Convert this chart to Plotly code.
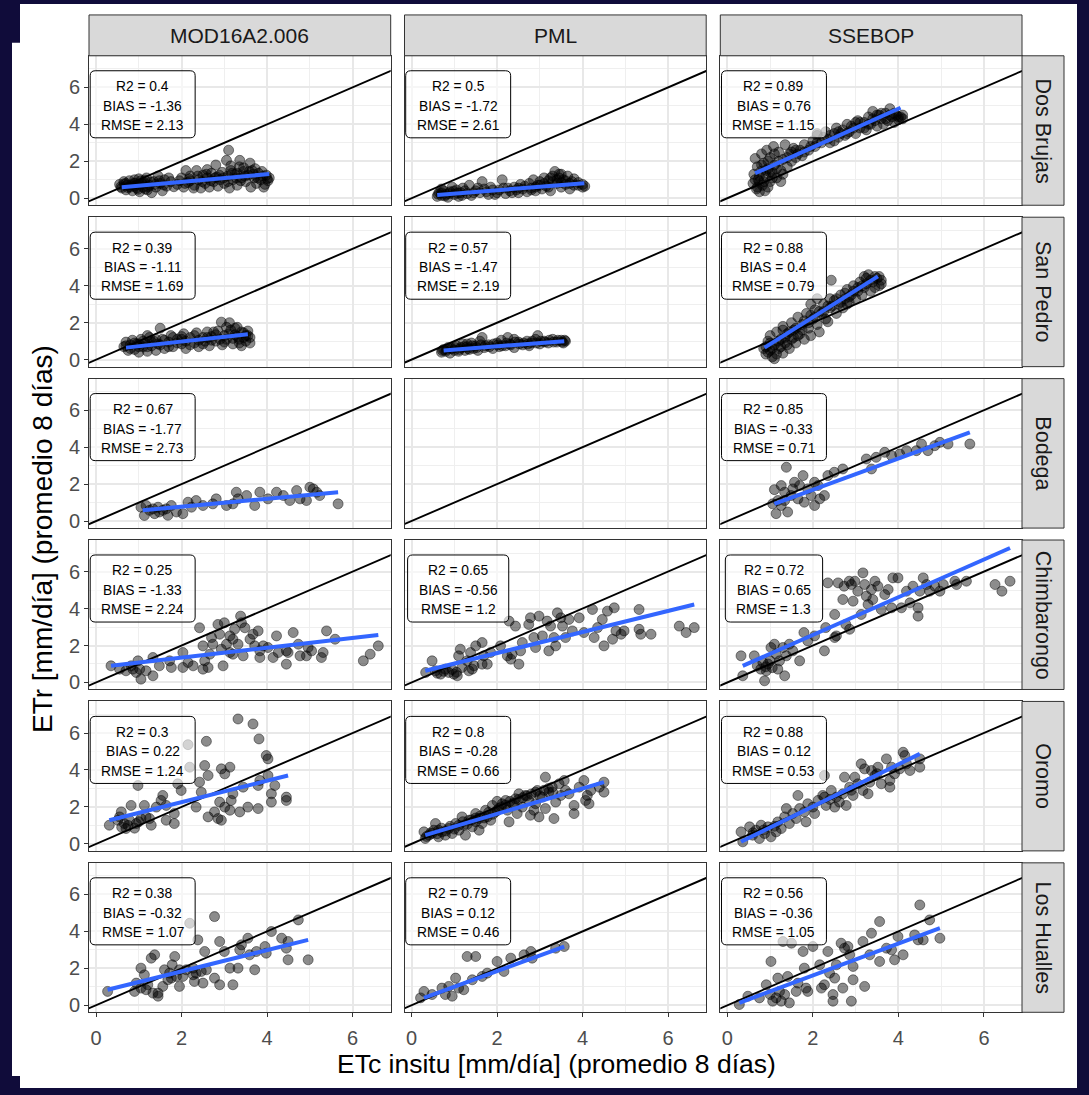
import plotly.graph_objects as go

W, H = 1089, 1095

models = ["MOD16A2.006", "PML", "SSEBOP"]
sites = ["Dos Brujas", "San Pedro", "Bodega", "Chimbarongo", "Oromo", "Los Hualles"]

r2_vals = [[0.4, 0.5, 0.89], [0.39, 0.57, 0.88], [0.67, None, 0.85],
           [0.25, 0.65, 0.72], [0.3, 0.8, 0.88], [0.38, 0.79, 0.56]]
bias_vals = [[-1.36, -1.72, 0.76], [-1.11, -1.47, 0.4], [-1.77, None, -0.33],
             [-1.33, -0.56, 0.65], [0.22, -0.28, 0.12], [-0.32, 0.12, -0.36]]
rmse_vals = [[2.13, 2.61, 1.15], [1.69, 2.19, 0.79], [2.73, None, 0.71],
             [2.24, 1.2, 1.3], [1.24, 0.66, 0.53], [1.07, 0.46, 1.05]]

tick_vals = [0, 2, 4, 6]
one_to_one = [-1, 9]

# ---------------- points (ETc insitu, ETr) ----------------
pts_db_mod = [(0.55,0.75),(0.6,0.55),(0.65,0.9),(0.7,0.45),(0.72,0.7),(0.78,0.95),(0.8,0.6),(0.85,0.4),(0.88,0.8),
 (0.9,1.0),(0.95,0.55),(1.0,0.75),(1.02,0.35),(1.05,0.95),(1.1,0.6),(1.12,0.85),(1.18,1.1),(1.2,0.45),(1.25,0.7),
 (1.3,0.3),(1.35,0.9),(1.4,0.6),(1.45,1.2),(1.5,0.8),(1.55,0.4),(1.6,1.0),(1.65,0.65),(1.75,0.9),(1.9,0.75),(2.0,1.1),
 (2.05,0.6),(2.1,1.5),(2.15,0.85),(2.2,1.2),(2.3,0.7),(2.35,1.5),(2.4,1.0),(2.45,0.55),(2.5,1.25),(2.55,0.8),(2.6,1.1),
 (2.65,0.6),(2.7,1.35),(2.75,0.9),(2.8,1.8),(2.82,1.15),(2.85,0.65),(2.9,1.0),(2.95,1.4),(3.0,0.8),(3.05,2.05),(3.08,1.2),
 (3.1,2.6),(3.12,0.55),(3.15,1.5),(3.2,1.0),(3.25,1.3),(3.3,0.7),(3.35,1.7),(3.36,2.05),(3.4,1.1),(3.45,1.45),(3.5,0.9),
 (3.55,1.25),(3.6,1.9),(3.62,0.6),(3.65,1.5),(3.7,1.1),(3.75,0.8),(3.8,1.35),(3.85,1.0),(3.9,1.2),(3.95,0.75),(4.0,1.05),
 (4.02,0.95),(3.3,1.35),(2.2,0.95),(1.15,0.5),(0.9,0.65),
 (0.58,0.62),(0.66,0.78),(0.74,0.58),(0.82,0.72),(0.92,0.82),(0.98,0.48),(1.08,0.78),(1.14,0.98),(1.22,0.62),(1.28,0.88),
 (1.38,0.75),(1.48,0.95),(1.58,0.72),(1.7,1.1),(1.82,0.62),(1.95,0.95),(2.08,0.8),(2.18,1.05),(2.28,0.55),(2.38,1.2),
 (2.48,0.9),(2.58,1.3),(2.68,0.95),(2.78,1.1),(2.88,1.25),(2.98,1.1),(3.08,0.9),(3.18,1.35),(3.28,1.1),(3.38,0.95),
 (3.48,1.2),(3.58,1.45),(3.68,1.3),(3.78,1.1),(3.88,1.45),(3.98,1.25),(4.05,1.1),(3.92,0.6),(3.72,1.6),(3.45,1.65),
 (3.15,1.75),(2.6,1.55),(1.0,1.05),(0.7,0.8)]
pts_db_pml = [(0.6,0.1),(0.65,0.3),(0.7,0.15),(0.75,0.4),(0.8,0.2),(0.85,0.05),(0.9,0.35),(0.95,0.6),(1.0,0.2),(1.05,0.45),
 (1.1,0.1),(1.15,0.3),(1.2,0.55),(1.3,0.25),(1.35,0.7),(1.4,0.15),(1.5,0.4),(1.6,0.3),(1.65,0.9),(1.7,0.5),(1.8,0.2),
 (1.9,0.45),(2.0,0.3),(2.12,1.0),(2.15,0.55),(2.2,0.25),(2.3,0.4),(2.4,0.6),(2.5,0.3),(2.55,0.75),(2.6,0.5),(2.7,0.35),
 (2.75,0.8),(2.8,0.55),(2.85,1.0),(2.9,0.4),(2.95,0.7),(3.0,0.9),(3.05,0.5),(3.1,1.1),(3.15,0.65),(3.2,0.95),(3.25,0.4),
 (3.3,1.2),(3.35,1.45),(3.4,0.8),(3.45,1.1),(3.5,0.6),(3.55,1.0),(3.6,0.75),(3.65,1.2),(3.7,0.5),(3.75,0.9),(3.8,0.7),
 (3.9,0.85),(4.0,0.6),(4.05,0.65),(3.5,1.3),(0.7,0.5),
 (0.62,0.22),(0.7,0.3),(0.78,0.12),(0.88,0.25),(0.98,0.38),(1.08,0.28),(1.18,0.15),(1.25,0.4),(1.45,0.3),(1.55,0.55),
 (1.75,0.35),(1.85,0.6),(1.95,0.2),(2.05,0.45),(2.25,0.55),(2.35,0.3),(2.45,0.45),(2.65,0.65),(2.8,0.45),(2.9,0.6),
 (3.0,0.7),(3.1,0.8),(3.2,0.6),(3.3,0.9),(3.4,1.0),(3.5,0.85),(3.6,0.95),(3.7,0.8),(3.8,1.05),(3.9,0.7),(4.0,0.75),
 (3.45,1.3),(3.25,1.1),(2.5,0.55)]
pts_db_sse = [(0.6,0.8),(0.62,1.3),(0.65,2.15),(0.68,0.5),(0.7,1.7),(0.72,1.0),(0.75,0.35),(0.78,1.45),(0.8,2.4),(0.82,0.7),
 (0.85,1.9),(0.88,0.4),(0.9,1.2),(0.92,2.6),(0.95,1.6),(1.0,0.9),(1.0,2.2),(1.05,1.4),(1.08,2.8),(1.1,1.8),(1.15,1.1),
 (1.2,2.5),(1.25,1.5),(1.3,2.1),(1.35,2.9),(1.4,1.7),(1.45,2.4),(1.5,2.0),(1.55,2.7),(1.6,2.2),(1.7,2.6),(1.75,2.3),
 (1.8,2.9),(1.9,2.6),(2.0,3.1),(2.05,2.8),(2.1,3.4),(2.2,3.0),(2.3,3.6),(2.35,3.2),(2.4,3.0),(2.5,3.5),(2.55,3.8),
 (2.6,3.3),(2.7,3.7),(2.75,3.4),(2.8,4.0),(2.85,3.6),(2.9,3.9),(3.0,3.5),(3.05,4.2),(3.1,3.8),(3.2,4.1),(3.25,3.7),
 (3.3,4.4),(3.35,4.0),(3.4,4.7),(3.45,4.2),(3.5,3.9),(3.55,4.5),(3.6,4.3),(3.65,4.0),(3.7,4.6),(3.75,4.2),(3.8,4.85),
 (3.85,4.4),(3.9,4.1),(3.95,4.5),(4.0,4.25),(4.05,4.4),(4.1,4.3),(1.25,0.9),(0.95,0.6),(2.1,3.5),
 (0.65,1.0),(0.7,0.6),(0.75,1.2),(0.8,1.8),(0.85,0.9),(0.9,1.5),(0.95,2.0),(1.05,1.1),(1.1,2.4),(1.15,1.6),(1.2,2.0),
 (1.3,1.3),(1.4,2.2),(1.5,2.5),(1.6,2.6),(1.65,2.4),(1.8,2.5),(1.95,2.8),(2.1,3.0),(2.25,3.3),(2.4,3.4),(2.5,3.1),
 (2.65,3.5),(2.8,3.5),(2.95,3.8),(3.1,4.1),(3.2,3.8),(3.3,4.0),(3.4,4.3),(3.5,4.5),(3.6,4.6),(3.7,4.3),(3.8,4.5),
 (3.9,4.6),(4.0,4.4),(4.1,4.5),(3.0,4.1),(2.6,3.6),(1.0,1.4),(0.75,0.9)]
pts_sp_mod = [(0.65,0.7),(0.7,0.95),(0.75,0.5),(0.8,0.8),(0.85,1.05),(0.9,0.55),(0.95,0.85),(1.0,0.4),(1.05,1.1),(1.1,0.7),
 (1.15,0.9),(1.2,0.45),(1.25,1.2),(1.3,0.75),(1.35,1.0),(1.4,0.5),(1.45,0.85),(1.5,1.7),(1.55,1.1),(1.6,0.6),(1.7,0.95),
 (1.75,1.3),(1.8,0.7),(1.9,1.1),(2.0,0.85),(2.05,1.4),(2.1,0.6),(2.2,1.2),(2.3,0.9),(2.35,1.45),(2.4,0.7),(2.5,1.2),
 (2.55,1.0),(2.6,1.5),(2.65,0.75),(2.7,1.25),(2.8,1.0),(2.85,1.55),(2.93,2.03),(2.95,0.8),(3.0,1.3),(3.05,1.1),(3.12,2.0),
 (3.15,1.6),(3.2,0.85),(3.25,1.35),(3.3,1.75),(3.35,1.1),(3.4,0.75),(3.45,1.45),(3.5,1.0),(3.55,1.3),(3.6,0.9),(3.6,1.2),
 (1.0,0.7),(2.0,1.1),
 (0.7,0.75),(0.8,0.6),(0.9,0.9),(1.0,0.85),(1.1,1.0),(1.2,0.7),(1.3,0.95),(1.4,1.1),(1.5,0.8),(1.6,1.05),(1.7,0.7),
 (1.8,1.2),(1.9,0.9),(2.0,1.25),(2.1,1.0),(2.2,0.8),(2.3,1.3),(2.4,1.05),(2.5,0.85),(2.6,1.2),(2.7,1.05),(2.8,1.35),
 (2.9,1.1),(3.0,0.95),(3.1,1.4),(3.2,1.15),(3.3,1.25),(3.4,1.5),(3.5,1.3),(3.55,1.55),(3.45,1.2),(3.35,0.9),(3.25,1.7),
 (3.05,1.75),(2.75,1.5),(1.2,1.3)]
pts_sp_pml = [(0.7,0.4),(0.75,0.55),(0.8,0.45),(0.85,0.65),(0.9,0.35),(0.95,0.6),(1.0,0.5),(1.05,0.75),(1.1,0.45),(1.15,0.65),
 (1.2,0.85),(1.25,0.5),(1.3,0.7),(1.35,0.55),(1.4,0.9),(1.45,0.6),(1.5,0.75),(1.55,0.5),(1.6,1.0),(1.65,1.2),(1.7,0.65),
 (1.8,0.8),(1.9,0.6),(2.0,0.9),(2.05,0.7),(2.1,1.05),(2.2,0.75),(2.25,1.2),(2.3,0.85),(2.4,0.65),(2.5,0.95),(2.6,0.8),
 (2.7,1.0),(2.75,0.75),(2.8,0.9),(2.9,1.1),(2.95,1.3),(3.0,0.85),(3.1,1.0),(3.2,0.9),(3.3,1.1),(3.4,0.95),(3.5,1.05),
 (3.55,0.9),(3.6,1.0),
 (0.72,0.5),(0.82,0.55),(0.92,0.6),(1.02,0.65),(1.12,0.55),(1.22,0.7),(1.32,0.6),(1.42,0.75),(1.52,0.65),(1.62,0.8),
 (1.72,0.75),(1.82,0.7),(1.92,0.85),(2.02,0.8),(2.12,0.75),(2.22,0.9),(2.32,0.8),(2.42,0.95),(2.52,0.85),(2.62,0.9),
 (2.72,0.85),(2.82,1.0),(2.92,0.9),(3.02,1.0),(3.12,0.95),(3.22,1.05),(3.32,0.95),(3.42,1.05),(3.52,0.95),(3.58,1.05),
 (2.4,1.1),(1.3,0.85)]
pts_sp_sse = [(0.85,0.6),(0.9,0.3),(0.95,1.0),(1.0,0.5),(1.0,1.3),(1.05,0.15),(1.1,0.8),(1.1,0.05),(1.15,1.5),(1.2,0.6),
 (1.25,1.1),(1.3,0.35),(1.3,1.8),(1.35,0.9),(1.4,1.4),(1.45,0.6),(1.5,2.0),(1.5,1.1),(1.55,1.6),(1.6,0.9),(1.65,2.3),
 (1.7,1.4),(1.75,1.9),(1.8,1.1),(1.85,2.5),(1.9,1.7),(1.95,1.3),(2.0,2.2),(2.05,2.7),(2.1,1.9),(2.15,1.5),(2.2,2.5),
 (2.25,3.0),(2.3,2.2),(2.35,2.05),(2.4,2.8),(2.43,4.3),(2.5,3.2),(2.55,2.5),(2.6,3.0),(2.65,3.5),(2.7,2.8),(2.75,3.3),
 (2.8,3.8),(2.85,3.1),(2.9,3.5),(2.95,4.0),(3.0,3.3),(3.05,3.7),(3.1,4.2),(3.15,3.5),(3.2,3.9),(3.25,4.4),(3.3,4.6),
 (3.35,3.7),(3.4,4.2),(3.45,3.9),(3.5,4.4),(3.55,4.0),(3.6,4.3),(1.95,3.0),(2.1,3.3),
 (0.9,0.7),(0.95,0.4),(1.0,0.9),(1.05,0.6),(1.15,0.3),(1.2,1.0),(1.25,0.7),(1.35,1.2),(1.4,0.8),(1.45,1.5),(1.55,1.2),
 (1.6,1.7),(1.65,1.3),(1.75,1.6),(1.8,2.1),(1.9,2.0),(1.95,2.4),(2.05,2.3),(2.15,2.6),(2.25,2.6),(2.35,2.9),(2.45,2.9),
 (2.55,3.3),(2.65,3.1),(2.75,3.6),(2.85,3.4),(2.95,3.7),(3.05,3.9),(3.15,4.0),(3.25,4.1),(3.35,4.3),(3.45,4.5),
 (3.55,4.5),(3.6,4.1),(3.2,4.5),(2.4,3.3),(2.8,3.0),(1.3,1.6)]
pts_bo_mod = [(1.05,0.75),(1.13,0.3),(1.25,0.58),(1.37,0.4),(1.45,0.75),(1.56,0.58),(1.68,0.31),(1.76,0.84),(1.88,0.49),
 (2.03,0.4),(2.15,1.02),(2.23,0.75),(2.34,1.11),(2.73,0.93),(2.81,1.2),(3.2,0.93),(3.28,1.56),(3.32,1.2),(3.52,1.38),
 (3.71,0.84),(3.83,1.56),(4.02,1.2),(4.22,1.56),(4.38,1.38),(4.53,1.11),(4.69,1.65),(4.77,1.2),(4.92,1.11),(5.0,1.83),
 (5.08,1.74),(5.16,1.56),(5.23,1.38),(5.66,0.93),(1.17,0.84),(1.33,0.66),(1.48,0.49),(1.64,0.66),(2.5,0.84),(3.05,0.84)]
pts_bo_pml = []
pts_bo_sse = [(1.38,2.91),(1.26,1.92),(1.57,2.1),(1.77,2.46),(1.14,0.4),(1.41,0.49),(1.06,0.93),(1.26,0.84),(1.49,1.38),
 (1.65,1.2),(1.8,1.02),(1.96,1.38),(2.04,0.84),(2.16,1.2),(2.27,1.38),(1.34,1.56),(1.53,1.74),(1.69,1.92),(1.88,1.74),
 (2.04,2.1),(2.35,2.46),(2.5,2.64),(2.7,2.82),(2.12,1.92),(3.25,3.36),(3.37,2.82),(3.48,3.45),(3.68,3.72),(3.84,3.54),
 (4.03,3.63),(4.19,3.81),(4.42,3.81),(4.54,4.17),(4.69,3.81),(4.85,4.08),(4.97,4.26),(5.16,4.17),(5.67,4.17),(1.18,1.11),
 (1.34,1.11),(1.1,1.7)]
pts_ch_mod = [(0.35,0.9),(0.55,0.72),(0.7,0.63),(0.82,0.9),(0.94,0.54),(1.02,0.72),(1.05,0.18),(0.98,1.17),(1.33,1.35),
 (1.33,0.36),(1.48,0.9),(1.76,0.81),(2.03,1.62),(2.03,0.81),(2.15,1.08),(2.27,0.9),(2.42,2.96),(2.5,1.98),(2.54,1.17),
 (2.5,0.72),(2.62,0.81),(2.7,2.43),(2.73,2.07),(2.85,3.14),(2.89,2.61),(2.93,1.8),(2.97,0.9),(3.0,3.23),(3.05,2.07),
 (3.13,2.52),(3.2,1.53),(3.2,2.34),(3.24,2.88),(3.32,2.07),(3.38,3.59),(3.4,3.23),(3.48,2.96),(3.6,2.34),(3.67,2.61),
 (3.71,1.98),(3.79,2.79),(3.83,1.35),(3.91,1.98),(4.02,1.89),(4.22,2.52),(4.26,1.62),(4.45,1.71),(4.45,0.99),(4.49,1.62),
 (4.61,2.7),(4.73,2.07),(4.77,1.44),(4.92,1.44),(4.96,1.89),(5.04,1.71),(5.27,1.35),(5.31,1.62),(5.39,2.79),(5.59,2.34),
 (6.25,1.17),(6.41,1.53),(6.6,1.98),(4.14,1.35),(3.44,1.44),(3.83,1.71),(3.13,1.62),(2.66,1.53),(1.72,1.17),(0.86,0.72),
 (1.17,0.63)]
pts_ch_pml = [(0.33,0.54),(0.48,1.17),(0.56,0.63),(0.68,0.45),(0.79,0.72),(0.87,0.54),(0.99,0.45),(1.07,0.36),(1.1,1.44),
 (1.14,1.8),(1.18,0.81),(1.3,1.17),(1.38,1.62),(1.42,0.72),(1.46,0.9),(1.5,1.98),(1.65,2.16),(1.69,1.44),(1.77,0.99),
 (1.85,1.62),(2.08,1.98),(2.28,3.32),(2.24,1.44),(2.32,1.26),(2.43,3.05),(2.51,0.99),(2.55,1.71),(2.59,2.16),(2.74,3.14),
 (2.78,3.5),(2.86,2.43),(2.9,1.89),(2.98,3.59),(3.06,2.52),(3.17,3.32),(3.21,1.71),(3.25,3.05),(3.33,2.43),(3.37,1.98),
 (3.41,3.77),(3.49,3.5),(3.53,3.05),(3.6,2.43),(3.68,3.41),(3.76,2.79),(3.92,3.5),(4.03,2.7),(4.23,3.95),(4.27,2.43),
 (4.35,2.97),(4.46,3.41),(4.5,1.98),(4.58,3.86),(4.7,2.34),(4.74,4.04),(4.78,2.79),(4.9,2.61),(4.97,2.79),(5.32,3.95),
 (5.32,2.88),(5.36,2.61),(5.6,2.61),(6.26,3.05),(6.42,2.7),(6.61,2.97),(2.35,1.53),(1.65,0.99),(1.34,0.63),
 (0.6,0.5),(0.75,0.6),(0.95,0.7),(1.05,0.55)]
pts_ch_sse = [(0.32,1.44),(0.36,0.36),(0.63,1.44),(0.7,0.9),(0.78,0.72),(0.83,1.08),(0.87,0.09),(0.91,0.63),(1.0,1.17),
 (1.02,1.89),(1.1,2.07),(1.14,1.53),(1.18,0.72),(1.22,1.17),(1.3,1.89),(1.34,0.36),(1.38,1.44),(1.45,2.07),(1.53,1.71),
 (1.69,1.17),(1.79,2.7),(1.88,2.25),(2.04,2.52),(2.27,1.71),(2.3,2.97),(2.35,5.39),(2.51,3.68),(2.55,2.52),(2.59,5.39),
 (2.7,4.49),(2.73,5.21),(2.77,3.14),(2.86,2.88),(2.9,5.3),(2.94,4.4),(2.98,5.48),(3.05,4.94),(3.13,3.68),(3.17,5.93),
 (3.21,5.3),(3.25,4.67),(3.29,4.22),(3.37,5.03),(3.4,4.49),(3.45,5.48),(3.52,5.21),(3.6,3.95),(3.68,4.76),(3.76,5.03),
 (3.84,4.04),(3.87,5.66),(3.99,5.66),(4.07,4.04),(4.19,4.94),(4.27,4.31),(4.34,5.21),(4.46,4.04),(4.46,3.59),(4.5,4.94),
 (4.58,5.66),(4.66,5.3),(4.73,4.94),(4.85,5.21),(4.97,4.94),(5.05,5.3),(5.32,5.48),(5.36,5.3),(5.59,5.48),(6.26,5.3),
 (6.42,4.94),(6.61,5.48),(2.51,2.43),(2.85,5.48),(0.9,0.85),(0.95,1.0),(1.05,0.8)]
pts_or_mod = [(3.32,6.76),(3.67,6.49),(3.81,5.68),(2.58,5.55),(2.15,5.37),(3.98,4.78),(4.02,4.6),(2.54,4.24),(2.93,4.06),
 (3.13,4.15),(3.01,3.79),(2.62,3.7),(2.42,3.34),(2.19,4.15),(1.91,3.25),(0.98,3.16),(1.99,2.89),(1.56,2.62),(1.52,2.35),
 (1.64,2.08),(1.41,1.99),(1.13,2.08),(0.82,2.08),(0.59,1.73),(0.51,1.28),(0.31,1.01),(0.66,1.1),(0.7,0.83),(0.94,1.1),
 (1.05,1.37),(1.25,1.37),(1.29,1.01),(1.64,1.28),(1.83,1.1),(1.83,1.64),(2.46,2.8),(2.34,1.99),(2.62,1.46),(2.77,1.73),
 (2.85,1.37),(2.93,1.28),(2.89,2.26),(3.01,1.99),(3.13,1.82),(3.16,2.35),(3.2,2.71),(3.36,1.73),(3.44,3.07),(3.55,1.99),
 (3.79,1.91),(3.79,3.16),(3.83,3.43),(4.02,3.7),(4.1,2.71),(4.1,2.26),(4.18,3.16),(4.45,2.53),(4.45,2.35),(0.55,1.46),
 (0.78,1.28),(1.17,1.46),(0.6,0.9),(0.75,1.0),(0.9,0.85),(1.0,1.2)]
pts_or_pml = [(0.29,0.65),(0.32,0.29),(0.41,0.47),(0.52,0.74),(0.56,1.1),(0.63,0.38),(0.71,0.65),(0.79,0.47),(0.87,0.83),
 (0.95,0.56),(1.03,1.1),(1.11,0.74),(1.18,1.46),(1.22,1.01),(1.34,1.28),(1.42,0.92),(1.5,1.64),(1.58,1.37),(1.65,1.1),
 (1.73,1.82),(1.77,1.46),(1.85,1.28),(1.89,2.08),(1.96,1.73),(2.04,1.91),(2.12,2.17),(2.2,2.35),(2.24,1.82),(2.28,1.19),
 (2.36,2.17),(2.43,2.44),(2.47,1.64),(2.51,2.71),(2.59,1.99),(2.66,2.62),(2.74,2.35),(2.78,1.55),(2.86,1.82),(2.9,2.17),
 (2.94,2.89),(2.98,1.46),(3.06,2.53),(3.13,3.61),(3.13,1.91),(3.21,2.8),(3.29,3.07),(3.33,1.37),(3.37,2.26),(3.45,3.25),
 (3.49,2.62),(3.57,3.43),(3.6,2.89),(3.68,2.71),(3.8,2.08),(3.8,1.64),(3.92,3.07),(4.03,3.43),(4.07,2.35),(4.11,2.62),
 (4.15,2.17),(4.19,2.89),(4.39,3.07),(4.5,3.34),(4.5,2.8),(0.63,0.74),(0.48,0.56),(1.58,0.74),(1.26,0.47),
 (0.35,0.4),(0.45,0.6),(0.6,0.55),(0.7,0.85),(0.8,0.7),(0.9,0.95),(1.0,0.8),(1.1,1.0),(1.2,1.2),(1.3,1.05),(1.4,1.3),
 (1.5,1.2),(1.6,1.5),(1.7,1.4),(1.8,1.7),(1.9,1.6),(2.0,1.8),(2.1,2.0),(2.2,2.1),(2.3,2.3),(2.4,2.2),(2.5,2.4),(2.6,2.5),
 (2.7,2.6),(2.8,2.7),(2.9,2.8),(3.0,2.6),(3.1,2.9),(3.2,3.0),(3.3,2.8),(2.0,2.3),(1.5,1.4)]
pts_or_sse = [(0.32,0.65),(0.36,0.11),(0.52,0.92),(0.59,0.47),(0.67,0.74),(0.75,0.29),(0.79,1.01),(0.87,0.56),(0.95,0.92),
 (1.02,0.38),(1.14,0.65),(1.18,1.19),(1.26,0.83),(1.34,1.46),(1.38,1.91),(1.45,1.1),(1.53,1.64),(1.61,1.37),(1.65,2.62),
 (1.69,1.91),(1.8,1.73),(1.84,1.19),(1.88,2.17),(2.0,1.99),(2.04,1.64),(2.12,2.35),(2.23,2.62),(2.27,3.7),(2.31,2.08),
 (2.43,2.89),(2.51,1.99),(2.55,2.53),(2.62,2.26),(2.7,2.71),(2.78,2.08),(2.86,3.07),(2.94,2.62),(2.98,3.61),(3.05,3.25),
 (3.13,4.33),(3.17,2.89),(3.21,4.06),(3.29,2.71),(3.33,3.34),(3.37,3.97),(3.45,3.7),(3.52,4.15),(3.6,3.25),(3.72,4.6),
 (3.8,3.43),(3.8,3.07),(3.84,4.15),(3.91,3.79),(4.03,4.06),(4.11,4.96),(4.15,4.78),(4.19,4.33),(4.27,3.97),(4.5,4.6),
 (4.5,4.15),(2.27,2.53),(2.74,3.61),(0.6,0.6),(0.85,0.75),(1.1,0.95),(2.4,2.4),(2.9,2.9),(3.5,3.8)]
pts_lh_mod = [(0.27,0.75),(0.9,0.75),(0.94,1.2),(1.05,0.93),(1.17,0.84),(1.21,1.11),(1.29,2.55),(1.37,2.73),(1.13,1.65),
 (1.05,2.01),(1.33,0.66),(1.45,0.49),(1.45,0.66),(1.56,1.02),(1.6,1.92),(1.68,1.38),(1.72,1.74),(1.78,2.19),(1.84,2.64),
 (1.88,1.56),(1.95,1.02),(2.03,1.56),(2.11,1.92),(2.19,4.44),(2.27,2.01),(2.3,1.29),(2.34,1.74),(2.38,3.54),(2.46,1.83),
 (2.5,1.2),(2.54,2.91),(2.58,1.92),(2.77,4.8),(2.77,1.47),(2.89,3.45),(2.89,1.11),(3.0,2.91),(3.13,2.01),(3.2,1.11),
 (3.32,2.01),(3.36,3.0),(3.4,3.27),(3.55,3.63),(3.59,2.73),(3.71,1.92),(3.75,2.91),(3.95,3.18),(3.98,2.82),(4.1,3.99),
 (4.34,3.63),(4.45,3.09),(4.49,2.46),(4.49,3.45),(4.73,4.62),(4.96,2.46),(2.27,1.65),(1.76,1.47),(1.95,1.92)]
pts_lh_pml = [(0.21,0.4),(0.29,0.75),(0.48,0.58),(0.71,0.93),(0.79,0.58),(0.95,0.49),(1.03,1.47),(1.1,0.93),(1.22,0.84),
 (1.3,2.64),(1.42,1.38),(1.5,2.64),(1.77,1.74),(2.0,2.37),(2.16,1.83),(2.32,2.55),(2.63,2.73),(2.79,2.91),(2.82,2.55),
 (3.37,3.09),(3.57,3.18),(0.87,1.02),(1.65,1.56)]
pts_lh_sse = [(0.28,0.04),(0.48,0.49),(0.75,0.4),(0.91,1.11),(1.0,0.58),(1.02,2.37),(1.06,0.22),(1.14,0.4),(1.18,1.47),
 (1.22,0.75),(1.26,0.22),(1.34,0.58),(1.41,1.56),(1.45,0.13),(1.61,0.75),(1.65,1.2),(1.77,2.91),(1.8,2.01),(1.84,0.93),
 (1.88,0.75),(2.0,3.18),(2.16,2.19),(2.2,0.93),(2.27,1.11),(2.35,2.91),(2.39,1.74),(2.47,0.58),(2.47,0.22),(2.51,1.47),
 (2.55,2.19),(2.66,3.36),(2.7,0.93),(2.74,3.09),(2.82,3.18),(2.86,2.73),(2.9,0.22),(2.94,2.1),(2.94,1.38),(3.17,3.45),
 (3.21,1.02),(3.33,2.73),(3.37,3.9),(3.56,4.53),(3.56,2.37),(3.72,3.09),(3.84,3.0),(3.91,2.46),(3.99,3.72),(4.11,2.73),
 (4.38,3.81),(4.46,3.54),(4.5,5.43),(4.58,3.54),(4.73,4.62),(4.97,3.63),(1.3,3.45),(1.5,3.36)]

# ---------------- linear fits (start, end) ----------------
fit_db_mod = [(0.6, 0.6), (4.05, 1.31)]
fit_db_pml = [(0.6, 0.18), (4.04, 0.81)]
fit_db_sse = [(0.65, 1.35), (4.05, 4.9)]
fit_sp_mod = [(0.7, 0.65), (3.55, 1.37)]
fit_sp_pml = [(0.75, 0.5), (3.57, 1.0)]
fit_sp_sse = [(0.87, 0.65), (3.52, 4.51)]
fit_bo_mod = [(1.09, 0.58), (5.66, 1.56)]
fit_bo_pml = []
fit_bo_sse = [(1.1, 0.93), (5.67, 4.8)]
fit_ch_mod = [(0.35, 0.9), (6.6, 2.57)]
fit_ch_pml = [(0.32, 0.63), (6.61, 4.22)]
fit_ch_sse = [(0.36, 0.9), (6.61, 7.28)]
fit_or_mod = [(0.31, 1.28), (4.49, 3.7)]
fit_or_pml = [(0.32, 0.47), (4.5, 3.34)]
fit_or_sse = [(0.32, 0.11), (4.5, 4.87)]
fit_lh_mod = [(0.27, 0.84), (4.96, 3.54)]
fit_lh_pml = [(0.29, 0.4), (3.57, 3.18)]
fit_lh_sse = [(0.28, 0.13), (4.97, 4.17)]

points = [[pts_db_mod, pts_db_pml, pts_db_sse], [pts_sp_mod, pts_sp_pml, pts_sp_sse],
          [pts_bo_mod, pts_bo_pml, pts_bo_sse], [pts_ch_mod, pts_ch_pml, pts_ch_sse],
          [pts_or_mod, pts_or_pml, pts_or_sse], [pts_lh_mod, pts_lh_pml, pts_lh_sse]]
fits = [[fit_db_mod, fit_db_pml, fit_db_sse], [fit_sp_mod, fit_sp_pml, fit_sp_sse],
        [fit_bo_mod, fit_bo_pml, fit_bo_sse], [fit_ch_mod, fit_ch_pml, fit_ch_sse],
        [fit_or_mod, fit_or_pml, fit_or_sse], [fit_lh_mod, fit_lh_pml, fit_lh_sse]]

# ---------------- geometry / style ----------------
col_left = [89, 404.5, 720.3]
panel_w = 301.7
row_top = [56, 218, 380, 542, 704, 866]
panel_h = 150
x_range = [-0.165, 6.89]
y_range = [-0.38, 7.71]
BG = "#100c3a"
FONT = "Liberation Sans, Arial, sans-serif"

def fx(p): return p / W
def fy(p): return 1 - p / H

fig = go.Figure()
layout = dict(width=W, height=H, margin=dict(l=0, r=0, t=0, b=0),
              paper_bgcolor=BG, plot_bgcolor="white", showlegend=False)
shapes = []
annotations = []

# white canvas
shapes.append(dict(type="rect", xref="paper", yref="paper", x0=fx(20), x1=fx(1077), y0=fy(1092), y1=fy(4),
                   fillcolor="white", line=dict(width=0), layer="below"))
shapes.append(dict(type="rect", xref="paper", yref="paper", x0=fx(12), x1=fx(21), y0=fy(1080), y1=fy(43),
                   fillcolor="white", line=dict(width=0), layer="below"))

char_w = {"0": .556, "1": .556, "2": .556, "3": .556, "4": .556, "5": .556, "6": .556, "7": .556, "8": .556,
          "9": .556, ".": .278, " ": .278, "=": .584, "-": .333, "R": .722, "M": .833, "S": .667, "E": .667,
          "B": .667, "I": .278, "A": .667}
LABEL_FS = 13.8
TICK_FS = 20
px_per_x = panel_w / (x_range[1] - x_range[0])
px_per_y = panel_h / (y_range[1] - y_range[0])

for r in range(6):
    for c in range(3):
        k = r * 3 + c + 1
        sx = "" if k == 1 else str(k)
        xa, ya = "x" + sx, "y" + sx
        left = col_left[c]
        top = row_top[r]
        layout["xaxis" + sx] = dict(
            domain=[fx(left), fx(left + panel_w)], anchor=ya, range=x_range,
            tickvals=tick_vals, showticklabels=(r == 5), ticks="outside" if r == 5 else "",
            ticklen=4, tickwidth=1, tickcolor="#333333", ticklabelstandoff=4,
            tickfont=dict(family=FONT, size=TICK_FS, color="#4D4D4D"),
            showgrid=True, gridcolor="#E8E8E8", gridwidth=1.8, zeroline=False,
            minor=dict(dtick=1, tick0=1, showgrid=True, gridcolor="#EFEFEF", gridwidth=1.1),
            showline=True, mirror=True, linecolor="#333333", linewidth=1)
        layout["yaxis" + sx] = dict(
            domain=[fy(top + panel_h), fy(top)], anchor=xa, range=y_range,
            tickvals=tick_vals, showticklabels=(c == 0), ticks="outside" if c == 0 else "",
            ticklen=4, tickwidth=1, tickcolor="#333333",
            tickfont=dict(family=FONT, size=TICK_FS, color="#4D4D4D"),
            showgrid=True, gridcolor="#E8E8E8", gridwidth=1.8, zeroline=False,
            minor=dict(dtick=1, tick0=1, showgrid=True, gridcolor="#EFEFEF", gridwidth=1.1),
            showline=True, mirror=True, linecolor="#333333", linewidth=1)

        pts = points[r][c]
        if pts:
            fig.add_trace(go.Scatter(
                x=[p[0] for p in pts], y=[p[1] for p in pts], mode="markers", xaxis=xa, yaxis=ya,
                marker=dict(size=10, color="rgba(0,0,0,0.45)", line=dict(width=0.8, color="rgba(0,0,0,0.55)")),
                hoverinfo="skip"))
        fig.add_trace(go.Scatter(x=one_to_one, y=one_to_one, mode="lines", xaxis=xa, yaxis=ya,
                                 line=dict(color="black", width=1.9), hoverinfo="skip"))
        fit = fits[r][c]
        if fit:
            fig.add_trace(go.Scatter(x=[p[0] for p in fit], y=[p[1] for p in fit], mode="lines",
                                     xaxis=xa, yaxis=ya, line=dict(color="#3366FF", width=4),
                                     hoverinfo="skip"))

        if r2_vals[r][c] is not None:
            lines = [f"R2 = {r2_vals[r][c]}", f"BIAS = {bias_vals[r][c]}", f"RMSE = {rmse_vals[r][c]}"]
            tw = max(sum(char_w.get(ch, .556) for ch in ln) for ln in lines) * LABEL_FS
            bw = (tw + 22.5) / px_per_x
            cx = 1.09
            x0, x1 = cx - bw / 2, cx + bw / 2
            y0, y1 = 3.27, 6.9
            rx, ry = 5 / px_per_x, 5 / px_per_y
            path = (f"M {x0+rx},{y0} L {x1-rx},{y0} Q {x1},{y0} {x1},{y0+ry} L {x1},{y1-ry} "
                    f"Q {x1},{y1} {x1-rx},{y1} L {x0+rx},{y1} Q {x0},{y1} {x0},{y1-ry} "
                    f"L {x0},{y0+ry} Q {x0},{y0} {x0+rx},{y0} Z")
            shapes.append(dict(type="path", path=path, xref=xa, yref=ya, layer="above",
                               fillcolor="rgba(255,255,255,0.62)", line=dict(color="black", width=1)))
            for ln, yy in zip(lines, [6.04, 4.98, 3.94]):
                annotations.append(dict(text=ln, x=cx, y=yy, xref=xa, yref=ya, showarrow=False,
                                        xanchor="center", yanchor="middle",
                                        font=dict(family=FONT, size=LABEL_FS, color="black")))

# strips
for c, name in enumerate(models):
    l = col_left[c]
    shapes.append(dict(type="rect", xref="paper", yref="paper", x0=fx(l), x1=fx(l + panel_w),
                       y0=fy(56), y1=fy(15), fillcolor="#D9D9D9", line=dict(color="#333333", width=1),
                       layer="above"))
    annotations.append(dict(text=name, x=fx(l + panel_w / 2), y=fy(35.5), xref="paper", yref="paper",
                            showarrow=False, xanchor="center", yanchor="middle",
                            font=dict(family=FONT, size=21, color="#1A1A1A")))
for r, name in enumerate(sites):
    t = row_top[r]
    shapes.append(dict(type="rect", xref="paper", yref="paper", x0=fx(1022), x1=fx(1064),
                       y0=fy(t + panel_h), y1=fy(t), fillcolor="#D9D9D9",
                       line=dict(color="#333333", width=1), layer="above"))
    annotations.append(dict(text=name, x=fx(1043), y=fy(t + panel_h / 2), xref="paper", yref="paper",
                            showarrow=False, textangle=90, xanchor="center", yanchor="middle",
                            font=dict(family=FONT, size=21.5, color="#1A1A1A")))

# axis titles
annotations.append(dict(text="ETc insitu [mm/día] (promedio 8 días)", x=fx(556), y=fy(1068),
                        xref="paper", yref="paper", showarrow=False, xanchor="center", yanchor="middle",
                        font=dict(family=FONT, size=26.5, color="black")))
annotations.append(dict(text="ETr [mm/día] (promedio 8 días)", x=fx(42), y=fy(541),
                        xref="paper", yref="paper", showarrow=False, textangle=-90,
                        xanchor="center", yanchor="middle",
                        font=dict(family=FONT, size=28, color="black")))

layout["shapes"] = shapes
layout["annotations"] = annotations
fig.update_layout(**layout)
fig.write_html("out.html")
